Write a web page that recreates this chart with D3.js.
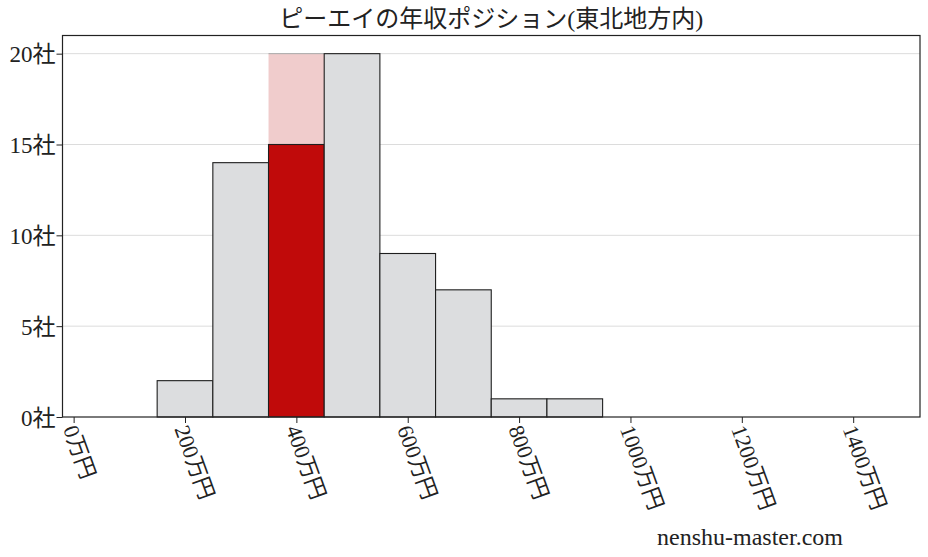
<!DOCTYPE html>
<html>
<head>
<meta charset="utf-8">
<script src="https://cdn.jsdelivr.net/npm/d3@7"></script>
<style>
  html, body { margin: 0; padding: 0; background: #fff; }
  svg text { font-family: "Liberation Serif", "Noto Sans CJK JP", serif; fill: #222; }
</style>
</head>
<body>
<div id="chart"></div>
<script>
(() => {
  // ------- data -------
  const binStarts = [150, 250, 350, 450, 550, 650, 750, 850];
  const binWidth = 100;
  const counts = [2, 14, 15, 20, 9, 7, 1, 1];
  const highlightBin = 350;      // ピーエイ's bin
  const highlightTop = 20;       // pink background height
  const xTicks = [0, 200, 400, 600, 800, 1000, 1200, 1400];
  const yTicks = [0, 5, 10, 15, 20];
  const title = "ピーエイの年収ポジション(東北地方内)";
  const credit = "nenshu-master.com";

  const width = 928, height = 557;
  const margin = { top: 35.5, right: 8, bottom: 140, left: 62.5 };
  const w = width - margin.left - margin.right;
  const h = height - margin.top - margin.bottom;

  const svg = d3.select("#chart").append("svg")
    .attr("width", width).attr("height", height);

  const g = svg.append("g").attr("transform", `translate(${margin.left},${margin.top})`);

  const x = d3.scaleLinear().domain([-20, 1520]).range([0, w]);
  const y = d3.scaleLinear().domain([0, 21]).range([h, 0]);

  // grid
  g.append("g").selectAll("line")
    .data(yTicks.filter(d => d > 0))
    .enter().append("line")
    .attr("x1", 0).attr("x2", w)
    .attr("y1", d => y(d)).attr("y2", d => y(d))
    .attr("stroke", "#dcdcdc").attr("stroke-width", 1);

  // highlight background
  g.append("rect")
    .attr("x", x(highlightBin)).attr("width", x(highlightBin + binWidth) - x(highlightBin))
    .attr("y", y(highlightTop)).attr("height", y(0) - y(highlightTop))
    .attr("fill", "#f0cccc");
  g.append("line")
    .attr("x1", x(highlightBin)).attr("x2", x(highlightBin + binWidth))
    .attr("y1", y(highlightTop)).attr("y2", y(highlightTop))
    .attr("stroke", "#aaa").attr("stroke-width", 1);

  const bins = binStarts.map((s, i) => ({ x0: s, x1: s + binWidth, n: counts[i] }));

  g.selectAll("rect.bar")
    .data(bins)
    .enter().append("rect")
    .attr("class", "bar")
    .attr("x", d => x(d.x0))
    .attr("width", d => x(d.x1) - x(d.x0))
    .attr("y", d => y(d.n))
    .attr("height", d => y(0) - y(d.n))
    .attr("fill", d => d.x0 === highlightBin ? "#c00a0a" : "#dcdddf")
    .attr("stroke", "#1e1e1e")
    .attr("stroke-width", 1.1);

  // axes
  const xAxis = d3.axisBottom(x).tickValues(xTicks).tickSize(6).tickFormat(d => d + "万円");
  const yAxis = d3.axisLeft(y).tickValues(yTicks).tickSize(6).tickFormat(d => d + "社");

  g.append("g")
    .attr("transform", `translate(0,${h})`)
    .call(xAxis)
    .call(a => a.select(".domain").remove())
    .call(a => a.selectAll("line").attr("stroke", "#222"))
    .call(a => a.selectAll("text")
      .style("font-size", "22px")
      .attr("text-anchor", "start")
      .attr("x", 0).attr("y", 0).attr("dy", "0.35em")
      .attr("transform", "translate(-4,9) rotate(70)"));

  g.append("g")
    .call(yAxis)
    .call(a => a.select(".domain").remove())
    .call(a => a.selectAll("line").attr("stroke", "#222"))
    .call(a => a.selectAll("text").style("font-size", "23px").attr("x", -7).attr("dy", "0.35em"));

  // frame
  g.append("rect")
    .attr("x", 0).attr("y", 0).attr("width", w).attr("height", h)
    .attr("fill", "none").attr("stroke", "#222").attr("stroke-width", 1.2);

  svg.append("text")
    .attr("x", margin.left + w / 2).attr("y", 27)
    .attr("text-anchor", "middle")
    .style("font-size", "24px")
    .text(title);

  svg.append("text")
    .attr("x", 750).attr("y", 545)
    .attr("text-anchor", "middle")
    .style("font-size", "24px")
    .text(credit);
})();
</script>
</body>
</html>
